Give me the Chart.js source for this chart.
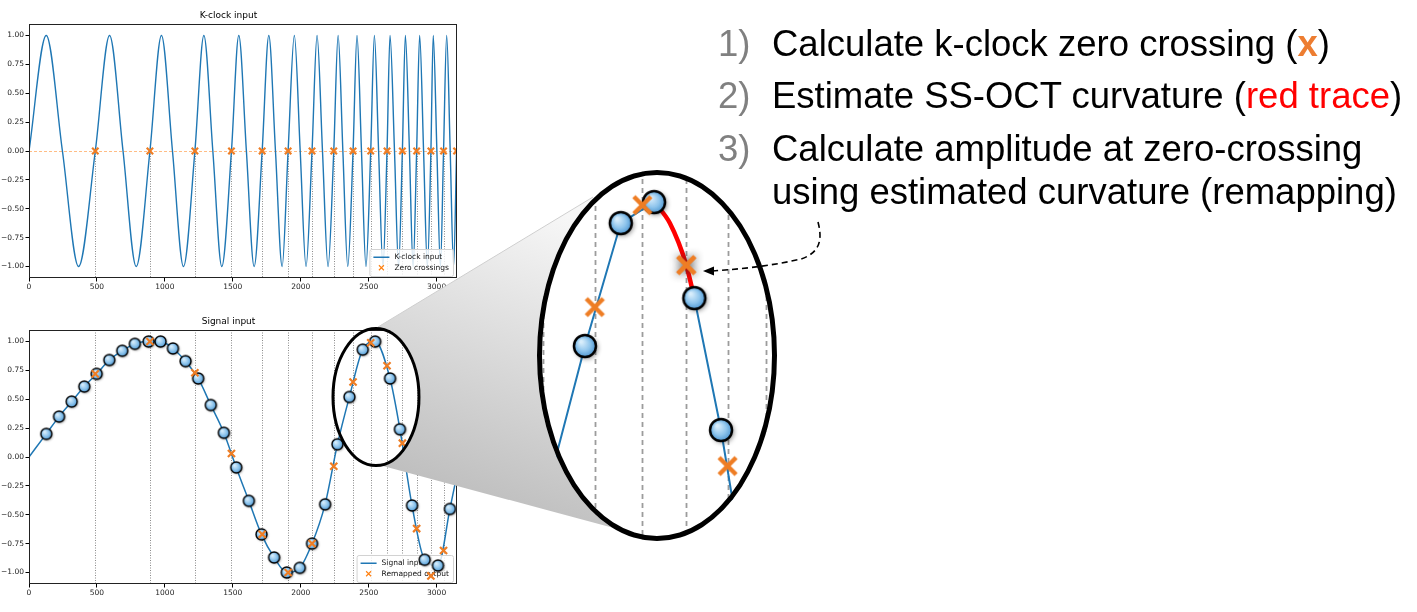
<!DOCTYPE html>
<html>
<head>
<meta charset="utf-8">
<script src="https://cdn.jsdelivr.net/npm/chart.js@4.4.1/dist/chart.umd.min.js"></script>
<style>
html, body { margin: 0; padding: 0; background: #fff; }
body { width: 1417px; height: 612px; position: relative; overflow: hidden; font-family: "Liberation Sans", Arial, sans-serif; }
.abs { position: absolute; }
#magWrap { left: 537px; top: 170px; width: 240px; height: 371px; border-radius: 50%; overflow: hidden; background: #fff; }
#magWrap canvas { display: block; }
#magRing { left: 537px; top: 170px; width: 240px; height: 371px; border-radius: 50%; border: 5.5px solid #000; box-sizing: border-box; }
.step { font-size: 36.5px; line-height: 36.5px; color: #000; white-space: nowrap; }
.num { color: #808080; }
</style>
</head>
<body>
<canvas id="topChart" class="abs" width="466" height="300" style="left:0;top:0"></canvas>
<canvas id="botChart" class="abs" width="466" height="312" style="left:0;top:300px"></canvas>

<svg class="abs" width="1417" height="612" style="left:0;top:0">
  <defs>
    <linearGradient id="coneFill" gradientUnits="userSpaceOnUse" x1="540" y1="205" x2="430" y2="500">
      <stop offset="0" stop-color="#f7f7f7"/>
      <stop offset="1" stop-color="#bcbcbc"/>
    </linearGradient>
  </defs>
  <path d="M 378 327 L 593 197 L 657 355 L 610 527 L 383 466 A 44.5 70 0 0 0 378 327 Z" fill="url(#coneFill)"/>
  <line x1="378" y1="327" x2="593" y2="197" stroke="#cfcfcf" stroke-width="1"/>
  <ellipse cx="376" cy="397" rx="43" ry="68.5" fill="none" stroke="#000" stroke-width="3"/>
</svg>

<div id="magWrap" class="abs"><canvas id="magChart" width="240" height="371"></canvas></div>
<div id="magRing" class="abs"></div>

<svg class="abs" width="1417" height="612" style="left:0;top:0">
  <path d="M 818 222 C 823 241, 819 253, 801 259 C 771 266, 741 269, 712 271" fill="none" stroke="#000" stroke-width="1.6" stroke-dasharray="6 4"/>
  <polygon points="703,271 714,266.5 714,275.5" fill="#000"/>
</svg>

<div class="abs step num" style="left:718px;top:26px">1)</div>
<div class="abs step" style="left:772px;top:26px">Calculate k-clock zero crossing (<b style="color:#ed7d31">x</b>)</div>
<div class="abs step num" style="left:718px;top:78px">2)</div>
<div class="abs step" style="left:772px;top:78px">Estimate SS-OCT curvature (<span style="color:#ff0000">red trace</span>)</div>
<div class="abs step num" style="left:718px;top:131px">3)</div>
<div class="abs step" style="left:772px;top:131px">Calculate amplitude at zero-crossing</div>
<div class="abs step" style="left:772px;top:174px">using estimated curvature (remapping)</div>

<script>
const blue = '#1f77b4';
const orange = '#ee7d24';

// K-clock trace read at every quarter period: rising zero, peak, falling zero, trough
const kclockX = [
    0, 127, 246, 365,
    488, 593, 692, 789,
    890, 975, 1056, 1137,
    1221, 1287, 1353, 1419,
    1490, 1544, 1600, 1657,
    1716, 1765, 1814, 1863,
    1907, 1953, 1996, 2039,
    2083, 2120, 2160, 2201,
    2243, 2275, 2310, 2346,
    2385, 2414, 2447, 2480,
    2515, 2542, 2573, 2605,
    2635, 2657, 2690, 2720,
    2748, 2770, 2800, 2827,
    2853, 2875, 2904, 2932,
    2958, 2975, 3002, 3028,
    3051, 3074, 3100, 3125,
    3147
];
const kclockY = [
    0, 1, 0, -1,  0, 1, 0, -1,  0, 1, 0, -1,  0, 1, 0, -1,
    0, 1, 0, -1,  0, 1, 0, -1,  0, 1, 0, -1,  0, 1, 0, -1,
    0, 1, 0, -1,  0, 1, 0, -1,  0, 1, 0, -1,  0, 1, 0, -1,
    0, 1, 0, -1,  0, 1, 0, -1,  0, 1, 0, -1,  0, 1, 0, -1,
    0
];

// rising zero crossings of the k-clock
const zeroX = [488, 890, 1221, 1490, 1716, 1907, 2083, 2243, 2385, 2515, 2635, 2748, 2853, 2958, 3051, 3147];

// signal samples (blue circles)
const sampleX = [127, 221, 314, 407, 498, 591, 686, 779, 880, 968, 1059, 1152, 1245, 1338, 1434, 1525, 1618,
                 1711, 1804, 1897, 1993, 2083, 2179, 2270, 2358, 2456, 2547, 2657, 2730, 2819, 2912, 3010, 3098];
const sampleY = [0.20, 0.35, 0.48, 0.61, 0.72, 0.84, 0.92, 0.98, 1.00, 1.00, 0.94, 0.83, 0.68, 0.45, 0.21, -0.09, -0.38,
                 -0.67, -0.87, -1.00, -0.96, -0.75, -0.41, 0.11, 0.52, 0.93, 1.00, 0.68, 0.24, -0.42, -0.89, -0.94, -0.45];
const traceEndsX = [0, 3150];
const traceEndsY = [0, -0.15];

// remapped output at the first 15 zero crossings
const remappedY = [0.72, 1.00, 0.73, 0.03, -0.67, -1.00, -0.75, -0.08, 0.65, 0.99, 0.79, 0.12, -0.62, -1.03, -0.81];

// estimated curvature (red trace) in the zoomed view
const redX = [2547, 2590, 2635, 2657];
const redY = [1.00, 0.93, 0.79, 0.68];
const highlightX = 2635;

const xTicks = [0, 500, 1000, 1500, 2000, 2500, 3000];
const yTicks = [-1, -0.75, -0.5, -0.25, 0, 0.25, 0.5, 0.75, 1];
const xRange = [0, 3150];
const yRange = [-1.1, 1.1];
const magXRange = [2227, 2883];
const magYRange = [-0.13, 1.107];

Chart.defaults.font.family = '"DejaVu Sans"';
Chart.defaults.color = '#222';

function pts(xs, ys) {
    return xs.map((x, i) => ({ x: x, y: ys[i] }));
}

const signalPts = [{ x: traceEndsX[0], y: traceEndsY[0] }]
    .concat(pts(sampleX, sampleY))
    .concat([{ x: traceEndsX[1], y: traceEndsY[1] }]);
const remappedPts = pts(zeroX.slice(0, remappedY.length), remappedY);

// sprite for the shaded blue sample circles
function makeCircle(r, lw, blur) {
    const pad = Math.ceil(blur + 3);
    const m = r + pad;
    const c = document.createElement('canvas');
    c.width = c.height = 2 * m;
    const g = c.getContext('2d');
    g.shadowColor = 'rgba(0,0,0,0.45)';
    g.shadowBlur = blur;
    g.shadowOffsetX = blur * 0.35;
    g.shadowOffsetY = blur * 0.35;
    const grad = g.createRadialGradient(m - r * 0.35, m - r * 0.4, r * 0.1, m, m, r);
    grad.addColorStop(0, '#d9eefc');
    grad.addColorStop(0.6, '#8dc4ec');
    grad.addColorStop(1, '#4f97d2');
    g.beginPath();
    g.arc(m, m, r, 0, Math.PI * 2);
    g.fillStyle = grad;
    g.fill();
    g.shadowColor = 'transparent';
    g.lineWidth = lw;
    g.strokeStyle = '#000';
    g.stroke();
    return c;
}

function makeCross(h, lw, glow) {
    const pad = glow ? 12 : 3;
    const m = h + pad;
    const c = document.createElement('canvas');
    c.width = c.height = 2 * m;
    const g = c.getContext('2d');
    g.strokeStyle = orange;
    g.lineWidth = lw;
    const draw = () => {
        g.beginPath();
        g.moveTo(m - h, m - h); g.lineTo(m + h, m + h);
        g.moveTo(m + h, m - h); g.lineTo(m - h, m + h);
        g.stroke();
    };
    if (glow) {
        g.shadowColor = 'rgba(40,40,40,0.85)';
        g.shadowBlur = 9;
        draw();
        g.shadowColor = 'transparent';
    }
    draw();
    return c;
}

const dotSmall = makeCircle(5.5, 1.4, 2.5);
const dotBig = makeCircle(11, 2.5, 5);
const crossBig = makeCross(8.5, 4.5, false);
const crossGlow = makeCross(8.5, 4.5, true);

// in the zoomed view only marks whose centre lies inside the ellipse are shown
function insideLens(ctx) {
    const c = ctx.chart;
    if (!ctx.raw || !c.chartArea) return false;
    const a = c.chartArea;
    const px = c.scales.x.getPixelForValue(ctx.raw.x);
    const py = c.scales.y.getPixelForValue(ctx.raw.y);
    const dx = (px - (a.left + a.right) / 2) / (a.width / 2 - 8);
    const dy = (py - (a.top + a.bottom) / 2) / (a.height / 2 - 8);
    return dx * dx + dy * dy <= 1;
}

// vertical guide lines at the zero crossings (plus optional horizontal line)
const vlines = {
    id: 'vlines',
    beforeDatasetsDraw(chart, args, o) {
        const { ctx, chartArea: a, scales } = chart;
        ctx.save();
        ctx.beginPath();
        ctx.rect(a.left, a.top, a.width, a.height);
        ctx.clip();
        if (o.hline !== undefined) {
            const py = Math.round(scales.y.getPixelForValue(o.hline)) + 0.5;
            ctx.strokeStyle = o.hcolor;
            ctx.lineWidth = 1;
            ctx.setLineDash([3, 2]);
            ctx.beginPath();
            ctx.moveTo(a.left, py);
            ctx.lineTo(a.right, py);
            ctx.stroke();
        }
        ctx.strokeStyle = o.color;
        ctx.lineWidth = o.width;
        ctx.setLineDash(o.dash);
        const y0 = o.from === undefined ? a.top : scales.y.getPixelForValue(o.from);
        const y1 = a.bottom;
        zeroX.forEach(v => {
            const px = Math.round(scales.x.getPixelForValue(v)) + 0.5;
            ctx.beginPath();
            ctx.moveTo(px, y0);
            ctx.lineTo(px, y1);
            ctx.stroke();
        });
        ctx.restore();
    }
};

// matplotlib style legend inside the plot, bottom right
const boxLegend = {
    id: 'boxLegend',
    afterDatasetDraw(chart, args, o) {
        if (args.index !== o.after) return;
        const { ctx, chartArea: a } = chart;
        const labels = o.labels;
        ctx.save();
        ctx.font = '7.5px "DejaVu Sans"';
        const rowH = 10.5;
        const w = Math.max(...labels.map(l => ctx.measureText(l).width)) + 29;
        const h = labels.length * rowH + 6;
        const bx = a.right - 4 - w;
        const by = a.bottom - 2 - h;
        ctx.beginPath();
        ctx.roundRect(bx + 0.5, by + 0.5, w, h, 2);
        ctx.fillStyle = 'rgba(255,255,255,0.8)';
        ctx.fill();
        ctx.strokeStyle = '#d2d2d2';
        ctx.lineWidth = 1;
        ctx.stroke();
        labels.forEach((label, i) => {
            const cy = by + 3 + rowH * (i + 0.5);
            const sx = bx + 4;
            if (i === 0) {
                ctx.strokeStyle = blue;
                ctx.lineWidth = 1.5;
                ctx.beginPath();
                ctx.moveTo(sx, cy);
                ctx.lineTo(sx + 16, cy);
                ctx.stroke();
            } else {
                ctx.strokeStyle = '#ff7f0e';
                ctx.lineWidth = 1.1;
                ctx.beginPath();
                ctx.moveTo(sx + 5.5, cy - 2.5); ctx.lineTo(sx + 10.5, cy + 2.5);
                ctx.moveTo(sx + 10.5, cy - 2.5); ctx.lineTo(sx + 5.5, cy + 2.5);
                ctx.stroke();
            }
            ctx.fillStyle = '#111';
            ctx.textBaseline = 'middle';
            ctx.fillText(label, sx + 21, cy);
        });
        ctx.restore();
    }
};

const frame = {
    id: 'frame',
    afterDatasetsDraw(chart) {
        const { ctx, chartArea: a } = chart;
        ctx.save();
        ctx.strokeStyle = '#222';
        ctx.lineWidth = 1;
        ctx.strokeRect(Math.round(a.left) + 0.5, Math.round(a.top) + 0.5,
                       Math.round(a.width) - 1, Math.round(a.height) - 1);
        ctx.restore();
    }
};

function plotOptions(title, titleTop, xAxisH, extra) {
    return {
        responsive: false,
        animation: false,
        events: [],
        layout: { padding: { right: 9 } },
        scales: {
            x: {
                type: 'linear',
                min: xRange[0],
                max: xRange[1],
                afterBuildTicks: s => { s.ticks = xTicks.map(v => ({ value: v })); },
                afterFit: s => { s.height = xAxisH; },
                grid: { drawOnChartArea: false, tickLength: 3.5, color: '#000' },
                border: { display: false },
                ticks: {
                    font: { size: 7.5 }, color: '#222', padding: 1, maxRotation: 0, autoSkip: false,
                    callback: v => String(v)
                }
            },
            y: {
                type: 'linear',
                min: yRange[0],
                max: yRange[1],
                afterBuildTicks: s => { s.ticks = yTicks.map(v => ({ value: v })); },
                afterFit: s => { s.width = 29; },
                grid: { drawOnChartArea: false, tickLength: 3.5, color: '#000' },
                border: { display: false },
                ticks: {
                    font: { size: 7.5 }, color: '#222', padding: 1.5, autoSkip: false,
                    callback: v => (v < 0 ? '\u2212' : '') + Math.abs(v).toFixed(2)
                }
            }
        },
        plugins: Object.assign({
            legend: { display: false },
            tooltip: { enabled: false },
            title: {
                display: true, text: title, color: '#000',
                font: { size: 9, weight: 'normal' },
                padding: { top: titleTop, bottom: 3.2 }
            }
        }, extra)
    };
}

new Chart(document.getElementById('topChart'), {
    type: 'scatter',
    data: {
        datasets: [{
            label: 'Zero crossings',
            data: zeroX.map(x => ({ x: x, y: 0 })),
            pointStyle: 'crossRot',
            pointRadius: 4.5,
            pointBorderWidth: 2.2,
            borderColor: orange,
            pointBorderColor: orange
        }, {
            label: 'K-clock input',
            data: pts(kclockX, kclockY),
            showLine: true,
            pointRadius: 0,
            borderColor: blue,
            borderWidth: 1.4,
            cubicInterpolationMode: 'monotone'
        }]
    },
    options: plotOptions('K-clock input', 10, 22, {
        vlines: { color: '#8a8a8a', width: 1, dash: [1, 1.5], from: 0, hline: 0, hcolor: '#ffbd85' },
        boxLegend: { after: 0, labels: ['K-clock input', 'Zero crossings'] }
    }),
    plugins: [vlines, boxLegend, frame]
});

new Chart(document.getElementById('botChart'), {
    type: 'scatter',
    data: {
        datasets: [{
            label: 'Remapped output',
            data: remappedPts,
            pointStyle: 'crossRot',
            pointRadius: 5,
            pointBorderWidth: 2.2,
            borderColor: orange,
            pointBorderColor: orange
        }, {
            label: 'Samples',
            data: pts(sampleX, sampleY),
            pointStyle: dotSmall,
            pointRadius: 6
        }, {
            label: 'Signal input',
            data: signalPts,
            showLine: true,
            pointRadius: 0,
            borderColor: blue,
            borderWidth: 1.5,
            cubicInterpolationMode: 'monotone'
        }]
    },
    options: plotOptions('Signal input', 16, 28, {
        vlines: { color: '#8a8a8a', width: 1, dash: [1, 1.5] },
        boxLegend: { after: 2, labels: ['Signal input', 'Remapped output'] }
    }),
    plugins: [vlines, boxLegend, frame]
});

// zoomed view inside the big ellipse
new Chart(document.getElementById('magChart'), {
    type: 'scatter',
    data: {
        datasets: [{
            data: remappedPts,
            pointStyle: ctx => (ctx.raw && ctx.raw.x === highlightX ? crossGlow : crossBig),
            pointRadius: ctx => (insideLens(ctx) ? 10 : 0)
        }, {
            data: pts(sampleX, sampleY),
            pointStyle: dotBig,
            pointRadius: ctx => (insideLens(ctx) ? 12 : 0)
        }, {
            data: pts(redX, redY),
            showLine: true,
            pointRadius: 0,
            borderColor: '#ff0000',
            borderWidth: 4.5,
            cubicInterpolationMode: 'monotone'
        }, {
            data: pts(sampleX, sampleY),
            showLine: true,
            pointRadius: 0,
            borderColor: blue,
            borderWidth: 2,
            segment: {
                borderColor: ctx => (ctx.p0.parsed.x >= redX[0] && ctx.p1.parsed.x <= redX[redX.length - 1])
                    ? 'rgba(0,0,0,0)' : blue
            }
        }]
    },
    options: {
        responsive: false,
        animation: false,
        events: [],
        layout: { padding: 0 },
        scales: {
            x: { type: 'linear', display: false, min: magXRange[0], max: magXRange[1] },
            y: { type: 'linear', display: false, min: magYRange[0], max: magYRange[1] }
        },
        plugins: {
            legend: { display: false },
            tooltip: { enabled: false },
            vlines: { color: '#9c9c9c', width: 1.8, dash: [5, 4] }
        }
    },
    plugins: [vlines]
});
</script>
</body>
</html>
